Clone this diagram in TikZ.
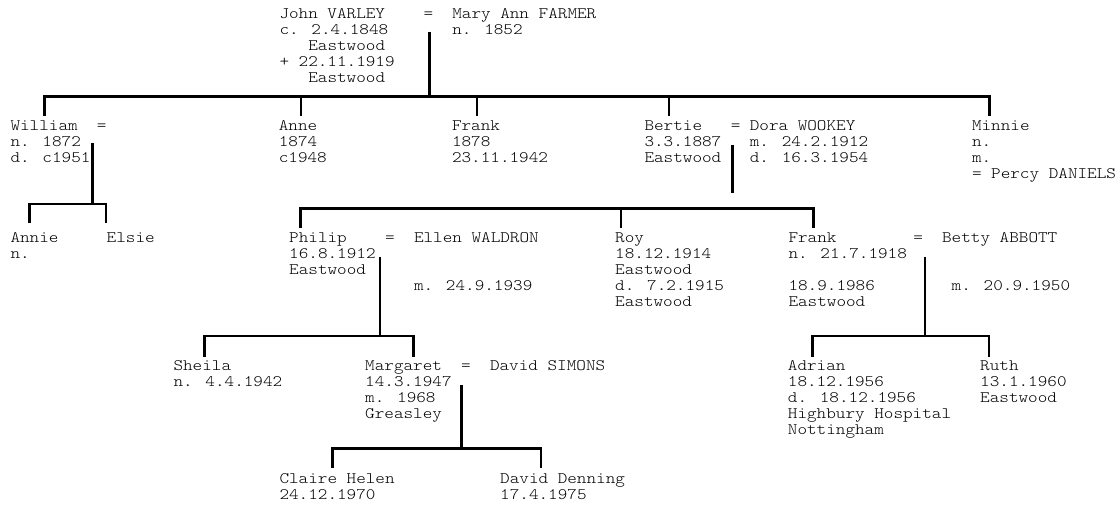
\documentclass[tikz,border=0pt]{standalone}
\usepackage{fontspec}
\setmainfont{lmmonolt10-regular.otf}[FakeStretch=1.143]
\newcommand{\blk}[1]{\begin{tabular}[t]{@{}l@{}}#1\end{tabular}}
\tikzset{
  txt/.style={anchor=base west, inner sep=0pt, font=\fontsize{16}{16}\selectfont},
  conn/.style={line width=2.6pt, black}
}
\begin{document}
\begin{tikzpicture}[x=1pt,y=-1pt]
\useasboundingbox (0,0) rectangle (1119,505);

% ---------- generation 1
\node[txt] (john) at (279.3,19) {\blk{John VARLEY~~~~=\\c. 2.4.1848\\~~~Eastwood\\+ 22.11.1919\\~~~Eastwood}};
\node[txt] (mary) at (452.1,19) {\blk{Mary Ann FARMER\\n. 1852}};

% ---------- generation 2
\node[txt] (william) at (10.3,130.7) {\blk{William~~=\\n. 1872\\d. c1951}};
\node[txt] (anne) at (278.6,130.7) {\blk{Anne\\1874\\c1948}};
\node[txt] (frank1) at (451.8,130.7) {\blk{Frank\\1878\\23.11.1942}};
\node[txt] (bertie) at (644.3,130.7) {\blk{Bertie~~~=\\3.3.1887\\Eastwood}};
\node[txt] (dora) at (749.6,130.7) {\blk{Dora WOOKEY\\m. 24.2.1912\\d. 16.3.1954}};
\node[txt] (minnie) at (971.8,130.7) {\blk{Minnie\\n.\\m.\\= Percy DANIELS}};

% ---------- generation 3
\node[txt] (annie) at (10.3,242.7) {\blk{Annie\\n.}};
\node[txt] (elsie) at (106.5,242.7) {\blk{Elsie}};
\node[txt] (philip) at (289,242.3) {\blk{Philip~~~~=\\16.8.1912\\Eastwood}};
\node[txt] (ellen) at (413.8,242.3) {\blk{Ellen WALDRON}};
\node[txt] (pmarr) at (413.8,290.3) {\blk{m. 24.9.1939}};
\node[txt] (roy) at (615,242.3) {\blk{Roy\\18.12.1914\\Eastwood\\d. 7.2.1915\\Eastwood}};
\node[txt] (frank2) at (788.3,242.3) {\blk{Frank~~~~~~~~=\\n. 21.7.1918\\ \\18.9.1986\\Eastwood}};
\node[txt] (betty) at (941.9,242.3) {\blk{Betty ABBOTT}};
\node[txt] (fmarr) at (951.5,290.3) {\blk{m. 20.9.1950}};

% ---------- generation 4
\node[txt] (sheila) at (173.3,370.7) {\blk{Sheila\\n. 4.4.1942}};
\node[txt] (margaret) at (365,370.7) {\blk{Margaret~~=\\14.3.1947\\m. 1968\\Greasley}};
\node[txt] (dsimons) at (489.8,370.7) {\blk{David SIMONS}};
\node[txt] (adrian) at (787.7,370.7) {\blk{Adrian\\18.12.1956\\d. 18.12.1956\\Highbury Hospital\\Nottingham}};
\node[txt] (ruth) at (980,370.7) {\blk{Ruth\\13.1.1960\\Eastwood}};

% ---------- generation 5
\node[txt] (claire) at (279.3,483.3) {\blk{Claire Helen\\24.12.1970}};
\node[txt] (ddenning) at (500,483.3) {\blk{David Denning\\17.4.1975}};

% ---------- connectors: John = Mary
\coordinate (jvt) at (429.3,31.7);
\coordinate (jvb) at (429.3,96.7);
\coordinate (jbl) at (44.3,96.7);
\coordinate (jbr) at (989.6,96.7);
\coordinate (jd1) at (44.3,116.5);
\coordinate (jd2) at (301,116.5);
\coordinate (jd3) at (476.8,116.5);
\coordinate (jd4) at (669,116.5);
\coordinate (jd5) at (989.6,116.5);
\draw[conn] (jvt) -- (jvb);
\draw[conn] (jd1) -- (jbl) -- (jbr) -- (jd5);
\draw[conn] (jd2) -- (jd2 |- jbl);
\draw[conn] (jd3) -- (jd3 |- jbl);
\draw[conn] (jd4) -- (jd4 |- jbl);

% ---------- William
\coordinate (wvt) at (92.7,143.3);
\coordinate (wvb) at (92.7,204);
\coordinate (wbl) at (29.3,204);
\coordinate (wbr) at (106,204);
\coordinate (wd1) at (29.3,223.3);
\coordinate (wd2) at (106,223.3);
\draw[conn] (wvt) -- (wvb);
\draw[conn] (wd1) -- (wbl) -- (wbr) -- (wd2);

% ---------- Bertie = Dora
\coordinate (bvt) at (732.7,145);
\coordinate (bve) at (732.7,192.7);
\coordinate (bbl) at (300.7,208.3);
\coordinate (bbr) at (813.6,208.3);
\coordinate (bd1) at (300.7,228.3);
\coordinate (bd2) at (621,228.3);
\coordinate (bd3) at (813.6,228.3);
\draw[conn] (bvt) -- (bve);
\draw[conn] (bd1) -- (bbl) -- (bbr) -- (bd3);
\draw[conn] (bd2) -- (bd2 |- bbl);

% ---------- Philip = Ellen
\coordinate (pvt) at (380,256.7);
\coordinate (pvb) at (380,336);
\coordinate (pbl) at (204.6,336);
\coordinate (pbr) at (413.3,336);
\coordinate (pd1) at (204.6,356.7);
\coordinate (pd2) at (413.3,356.7);
\draw[conn] (pvt) -- (pvb);
\draw[conn] (pd1) -- (pbl) -- (pbr) -- (pd2);

% ---------- Frank = Betty
\coordinate (fvt) at (925,256.7);
\coordinate (fvb) at (925,336);
\coordinate (fbl) at (812.7,336);
\coordinate (fbr) at (989,336);
\coordinate (fd1) at (812.7,356.7);
\coordinate (fd2) at (989,356.7);
\draw[conn] (fvt) -- (fvb);
\draw[conn] (fd1) -- (fbl) -- (fbr) -- (fd2);

% ---------- Margaret = David
\coordinate (mvt) at (461.7,385);
\coordinate (mvb) at (461.7,448.3);
\coordinate (mbl) at (332.7,448.3);
\coordinate (mbr) at (541,448.3);
\coordinate (md1) at (332.7,468.3);
\coordinate (md2) at (541,468.3);
\draw[conn] (mvt) -- (mvb);
\draw[conn] (md1) -- (mbl) -- (mbr) -- (md2);
\end{tikzpicture}
\end{document}
